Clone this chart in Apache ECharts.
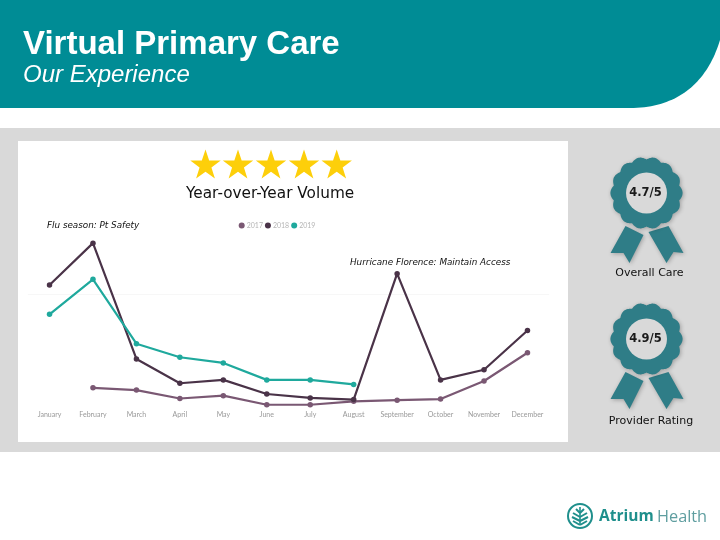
<!DOCTYPE html>
<html><head><meta charset="utf-8">
<style>html,body{margin:0;padding:0;background:#fff}#c{width:720px;height:540px}</style>
<script src="https://cdn.jsdelivr.net/npm/echarts@6/dist/echarts.min.js"></script>
</head><body><div id="c"></div>
<script>
const months=['January','February','March','April','May','June','July','August','September','October','November','December'];
const v2017=[null,17,15,7.5,10,2,2,5,6,7,23,48];
const v2018=[108,145,42.5,21,24,11.5,8,6.6,118,24,33,67.7];
const v2019=[82,113,56,44,39,24,24,20,null,null,null,null];
const colors={y2017:'#7a5873',y2018:'#4a3348',y2019:'#1fa99d'};
const TEAL='#008c95',BADGE='#2f7d87',FONT='"DejaVu Sans"';

function text(x,y,s,o){return {type:'text',x,y,z:5,style:Object.assign({text:s,fill:'#000',font:'12px '+FONT,textVerticalAlign:'middle'},o||{})};}
function star(cx,cy,R){const p=[];for(let i=0;i<10;i++){const r=i%2?R*0.39:R,a=-Math.PI/2+i*Math.PI/5;p.push([cx+r*Math.cos(a),cy+r*Math.sin(a)]);}
  return {type:'polygon',z:3,shape:{points:p},style:{fill:'#fdcf0a'}};}
function badge(cx,cy,s){
  const pts=[];const n=14;for(let i=0;i<280;i++){const a=i/280*2*Math.PI;const r=33.5+2.6*Math.abs(Math.cos(a*n/2));pts.push([cx+r*Math.cos(a),cy+r*Math.sin(a)]);}
  const shadow={shadowBlur:4,shadowColor:'rgba(0,0,0,.28)',shadowOffsetX:1,shadowOffsetY:1};
  const rib=(a)=>({type:'polygon',z:3,shape:{points:a.map(q=>[cx+q[0],cy+q[1]])},style:Object.assign({fill:BADGE},shadow)});
  return [
    rib([[-21,33],[-3,42],[-17,70],[-23,60],[-36,60]]),
    rib([[2,39],[22,33],[37,60],[27,59],[20,70]]),
    {type:'polygon',z:3,shape:{points:pts},style:Object.assign({fill:BADGE},shadow)},
    {type:'circle',z:4,shape:{cx,cy,r:20.5},style:{fill:'#d9d9d9'}},
    text(cx-1,cy,s,{font:'bold 11.5px '+FONT,textAlign:'center',fill:'#1a1a1a'})
  ];
}
function logo(cx,cy){
  const e=[{type:'circle',z:3,shape:{cx,cy,r:12},style:{fill:'none',stroke:'#1f8f8c',lineWidth:2}},
  {type:'line',z:3,shape:{x1:cx,y1:cy-9,x2:cx,y2:cy+9},style:{stroke:'#1f8f8c',lineWidth:1.6}}];
  [-6,-2,2,6].forEach((d,i)=>{const w=[4,7,8,7][i];
    e.push({type:'line',z:3,shape:{x1:cx,y1:cy+d+3,x2:cx-w,y2:cy+d-1},style:{stroke:'#1f8f8c',lineWidth:2}});
    e.push({type:'line',z:3,shape:{x1:cx,y1:cy+d+3,x2:cx+w,y2:cy+d-1},style:{stroke:'#1f8f8c',lineWidth:2}});});
  return e;
}
function headerPoints(){
  const p=[[0,0],[720,0],[720,40]];
  const b=[[720,40],[708,80],[680,108],[630,108]];
  for(let i=1;i<=40;i++){const t=i/40,u=1-t;
    p.push([u*u*u*b[0][0]+3*u*u*t*b[1][0]+3*u*t*t*b[2][0]+t*t*t*b[3][0],
            u*u*u*b[0][1]+3*u*u*t*b[1][1]+3*u*t*t*b[2][1]+t*t*t*b[3][1]]);}
  p.push([0,108]);return p;
}
const bg=[
  {type:'rect',z:0,shape:{x:0,y:128,width:720,height:324},style:{fill:'#d9d9d9'}},
  {type:'rect',z:0,shape:{x:18,y:141,width:550,height:301},style:{fill:'#fff'}},
  {type:'polygon',z:0,shape:{points:headerPoints()},style:{fill:TEAL}}
];
const labels=[
  text(23,44.5,'Virtual Primary Care',{font:'bold 33px "Liberation Sans"',fill:'#fff'}),
  text(23,75.5,'Our Experience',{font:'italic 24px "Liberation Sans"',fill:'#fff'}),
  text(186,194,'Year-over-Year Volume',{font:'15.3px '+FONT,fill:'#111'}),
  text(47,226,'Flu season: Pt Safety',{font:'italic 8.8px '+FONT,fill:'#111'}),
  text(350,263,'Hurricane Florence: Maintain Access',{font:'italic 8.8px '+FONT,fill:'#111'}),
  text(649.5,273.5,'Overall Care',{font:'11px '+FONT,textAlign:'center',fill:'#111'}),
  text(651,421,'Provider Rating',{font:'11px '+FONT,textAlign:'center',fill:'#111'}),
  text(599,517,'Atrium',{font:'bold 15.5px "Open Sans"',fill:'#1f8f8c'}),
  text(657,517,'Health',{font:'16.3px "Open Sans"',fill:'#5f9ea0'})
];
const stars=[205.5,238,271,304,336.7].map(x=>star(x,165.5,16));
const chart=echarts.init(document.getElementById('c'),null,{renderer:'canvas'});
function line(name,data,color){return {name,type:'line',data,connectNulls:false,symbol:'circle',symbolSize:5.5,z:3,
  lineStyle:{color,width:2.2},itemStyle:{color}};}
chart.setOption({
  animation:false,
  legend:{left:233.7,top:217,itemWidth:6,itemHeight:6,itemGap:2,icon:'circle',
    textStyle:{fontFamily:'Lato',fontSize:7,color:'#b5b5b5',padding:[0,0,0,-3]},data:['2017','2018','2019']},
  grid:{left:27.8,right:170.8,top:237.5,height:169.5},
  xAxis:{type:'category',data:months,axisLine:{show:false},axisTick:{show:false},
    axisLabel:{fontFamily:'Lato',fontSize:7,color:'#999',margin:4,interval:0}},
  yAxis:{type:'value',min:0,max:150,interval:100,axisLabel:{show:false},axisLine:{show:false},axisTick:{show:false},
    splitLine:{showMinLine:false,showMaxLine:false,lineStyle:{color:'#f7f7f7',width:1}}},
  series:[line('2017',v2017,colors.y2017),line('2018',v2018,colors.y2018),line('2019',v2019,colors.y2019)],
  graphic:{elements:[].concat(bg,stars,badge(646.5,193,'4.7/5'),badge(646.5,339,'4.9/5'),logo(580,516),labels)}
});
</script></body></html>
